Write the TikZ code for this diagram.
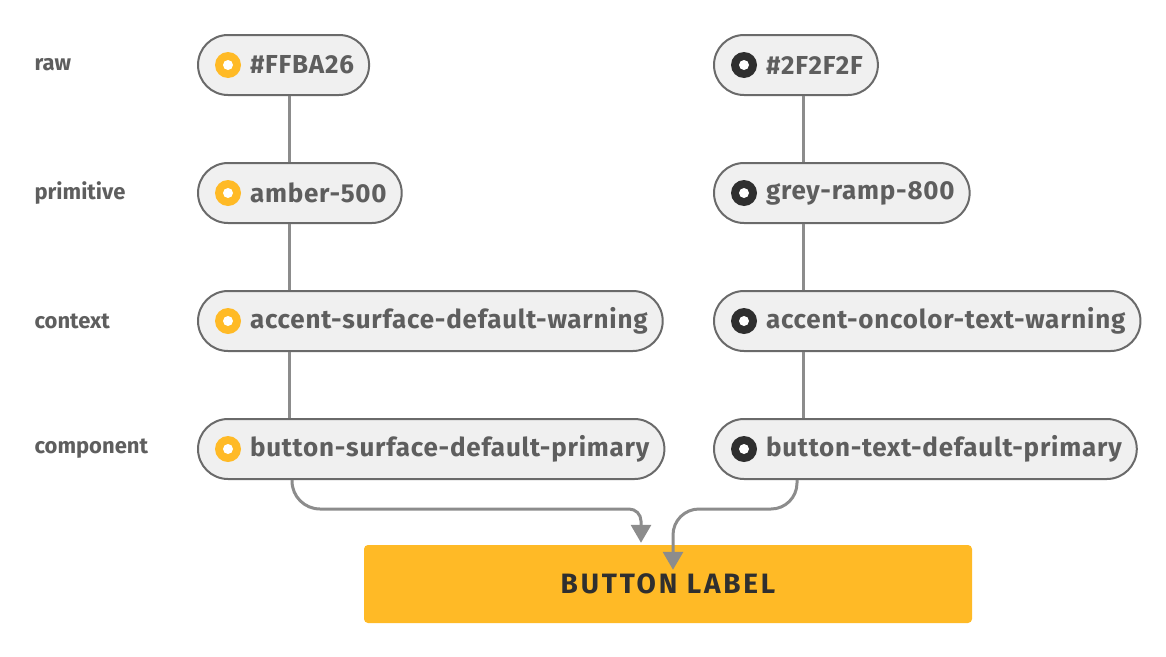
\documentclass[tikz,border=0pt]{standalone}
\usepackage{fontspec}
\setmainfont{Fira Sans}
\usepackage{xcolor}
\usepackage{tikz}
\usetikzlibrary{positioning,arrows.meta}

\definecolor{tokenamber}{HTML}{FFBA26}
\definecolor{tokendark}{HTML}{2F2F2F}
\definecolor{pillfill}{HTML}{F0F0F0}
\definecolor{pilledge}{HTML}{6A6A6A}
\definecolor{labelgrey}{HTML}{5E5E5E}
\definecolor{linkgrey}{HTML}{8C8C8C}

\tikzset{
  level/.style={anchor=west,font=\fontsize{22}{25}\selectfont\bfseries,text=labelgrey},
  pill/.style={draw=pilledge,line width=2pt,fill=pillfill,rounded corners=30pt,
    minimum height=60pt,anchor=west,inner xsep=0pt,
    font=\fontsize{26}{29}\selectfont\bfseries\addfontfeature{LetterSpace=3},text=labelgrey,
    path picture={
      \fill[#1] ([xshift=30pt]path picture bounding box.west) circle (13pt);
      \fill[white] ([xshift=30pt]path picture bounding box.west) circle (5pt);}},
  link/.style={draw=linkgrey,line width=3pt},
  flow/.style={link,-{Triangle[width=20pt,length=18pt]}}
}

\newcommand{\pilltext}[1]{\hspace*{52pt}#1\hspace*{15pt}}

\begin{document}
\begin{tikzpicture}[x=1pt,y=-1pt]
  \useasboundingbox (0,0) rectangle (1166,656);

  % level labels
  \node[level] (lvl-raw)  at (31,65)  {raw};
  \node[level] (lvl-prim) at (31,193) {primitive};
  \node[level] (lvl-ctx)  at (31,321) {context};
  \node[level] (lvl-comp) at (31,449) {component};

  % surface chain
  \node[pill=tokenamber] (raw-l)  at (197,65)  {\pilltext{\#FFBA26}};
  \node[pill=tokenamber] (prim-l) at (197,193) {\pilltext{amber-500}};
  \node[pill=tokenamber] (ctx-l)  at (197,321) {\pilltext{accent-surface-default-warning}};
  \node[pill=tokenamber] (comp-l) at (197,449) {\pilltext{button-surface-default-primary}};

  % text chain
  \node[pill=tokendark] (raw-r)  at (713,65)  {\pilltext{\#2F2F2F}};
  \node[pill=tokendark] (prim-r) at (713,193) {\pilltext{grey-ramp-800}};
  \node[pill=tokendark] (ctx-r)  at (713,321) {\pilltext{accent-oncolor-text-warning}};
  \node[pill=tokendark] (comp-r) at (713,449) {\pilltext{button-text-default-primary}};

  % button
  \node[fill=tokenamber,rounded corners=4pt,minimum width=608pt,minimum height=78pt,
    font=\fontsize{28}{32}\selectfont\bfseries\addfontfeature{LetterSpace=10},text=tokendark] (btn) at (668,584) {BUTTON LABEL};

  % chains
  \foreach \a/\b in {raw-l/prim-l,prim-l/ctx-l,ctx-l/comp-l}
    \draw[link] ([xshift=92pt]\a.south west) -- ([xshift=92pt]\b.north west);
  \foreach \a/\b in {raw-r/prim-r,prim-r/ctx-r,ctx-r/comp-r}
    \draw[link] ([xshift=90pt]\a.south west) -- ([xshift=90pt]\b.north west);

  % into the button
  \coordinate (bend) at (0,509);
  \coordinate (out-l) at ([xshift=95pt]comp-l.south west);
  \coordinate (out-r) at ([xshift=84pt]comp-r.south west);
  \coordinate (tip-l) at ([xshift=-27pt,yshift=2pt]btn.north);
  \coordinate (tip-r) at ([xshift=5pt,yshift=-25pt]btn.north);
  \draw[flow] (out-l) [rounded corners=28pt] -- (out-l |- bend) [rounded corners=12pt] -- (tip-l |- bend) -- (tip-l);
  \draw[flow,rounded corners=26pt] (out-r) -- (out-r |- bend) -- (tip-r |- bend) -- (tip-r);
\end{tikzpicture}
\end{document}
